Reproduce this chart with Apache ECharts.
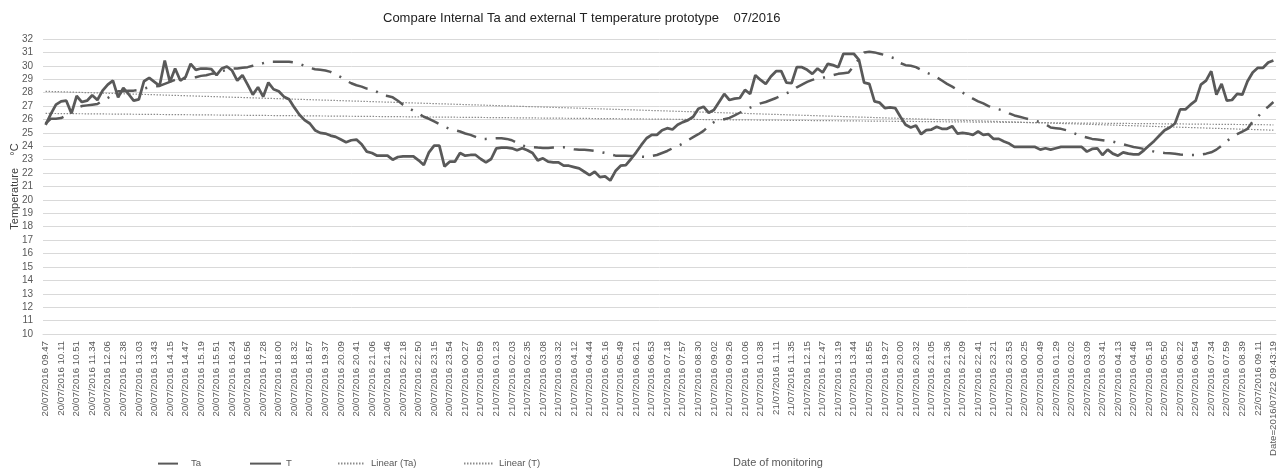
<!DOCTYPE html>
<html>
<head>
<meta charset="utf-8">
<title>Compare Internal Ta and external T temperature prototype</title>
<script src="https://cdn.jsdelivr.net/npm/echarts@6.0.0/dist/echarts.min.js"></script>
<style>
  html, body { margin: 0; padding: 0; background: #fff; }
  #chart { width: 1287px; height: 472px; }
</style>
</head>
<body>
<div id="chart"></div>
<script>
// tick labels shown on the x axis (one every 3 readings)
const tickLabels = [
  '20/07/2016 09.47', '20/07/2016 10.11', '20/07/2016 10.51', '20/07/2016 11.34', '20/07/2016 12.06',
  '20/07/2016 12.38', '20/07/2016 13.03', '20/07/2016 13.43', '20/07/2016 14.15', '20/07/2016 14.47',
  '20/07/2016 15.19', '20/07/2016 15.51', '20/07/2016 16.24', '20/07/2016 16.56', '20/07/2016 17.28',
  '20/07/2016 18.00', '20/07/2016 18.32', '20/07/2016 18.57', '20/07/2016 19.37', '20/07/2016 20.09',
  '20/07/2016 20.41', '20/07/2016 21.06', '20/07/2016 21.46', '20/07/2016 22.18', '20/07/2016 22.50',
  '20/07/2016 23.15', '20/07/2016 23.54',
  '21/07/2016 00.27', '21/07/2016 00.59', '21/07/2016 01.23', '21/07/2016 02.03', '21/07/2016 02.35',
  '21/07/2016 03.08', '21/07/2016 03.32', '21/07/2016 04.12', '21/07/2016 04.44', '21/07/2016 05.16',
  '21/07/2016 05.49', '21/07/2016 06.21', '21/07/2016 06.53', '21/07/2016 07.18', '21/07/2016 07.57',
  '21/07/2016 08.30', '21/07/2016 09.02', '21/07/2016 09.26', '21/07/2016 10.06', '21/07/2016 10.38',
  '21/07/2016 11.11', '21/07/2016 11.35', '21/07/2016 12.15', '21/07/2016 12.47', '21/07/2016 13.19',
  '21/07/2016 13.44', '21/07/2016 18.55', '21/07/2016 19.27', '21/07/2016 20.00', '21/07/2016 20.32',
  '21/07/2016 21.05', '21/07/2016 21.36', '21/07/2016 22.09', '21/07/2016 22.41', '21/07/2016 23.21',
  '21/07/2016 23.53',
  '22/07/2016 00.25', '22/07/2016 00.49', '22/07/2016 01.29', '22/07/2016 02.02', '22/07/2016 03.09',
  '22/07/2016 03.41', '22/07/2016 04.13', '22/07/2016 04.46', '22/07/2016 05.18', '22/07/2016 05.50',
  '22/07/2016 06.22', '22/07/2016 06.54', '22/07/2016 07.34', '22/07/2016 07.59', '22/07/2016 08.39',
  '22/07/2016 09.11',
  'Date=2016/07/22 09:43:19'
];
const readingsPerTick = 3;

// external temperature T (solid line)
const tValues = [
  25.6, 26.4, 27.1, 27.35, 27.4, 26.45, 27.75, 27.3, 27.4, 27.8,
  27.45, 28.15, 28.6, 28.9, 27.65, 28.35, 27.9, 27.4, 27.5, 28.85,
  29.1, 28.8, 28.5, 30.4, 28.8, 29.8, 28.9, 29.15, 30.15, 29.7,
  29.8, 29.8, 29.75, 29.3, 29.8, 29.95, 29.65, 28.9, 29.3, 28.6,
  27.85, 28.4, 27.7, 28.75, 28.25, 28.1, 27.7, 27.5, 26.9, 26.35,
  25.95, 25.7, 25.2, 25.0, 24.95, 24.8, 24.7, 24.5, 24.3, 24.45,
  24.5, 24.15, 23.6, 23.5, 23.3, 23.3, 23.3, 23.0, 23.2, 23.25,
  23.25, 23.25, 22.95, 22.6, 23.55, 24.05, 24.05, 22.5, 22.85, 22.85,
  23.5, 23.3, 23.35, 23.35, 23.05, 22.8, 23.05, 23.85, 23.9, 23.9,
  23.85, 23.7, 23.85, 23.7, 23.5, 22.95, 23.1, 22.85, 22.8, 22.8,
  22.55, 22.55, 22.45, 22.35, 22.1, 21.85, 22.1, 21.7, 21.75, 21.45,
  22.15, 22.55, 22.6, 23.05, 23.55, 24.1, 24.6, 24.85, 24.85, 25.2,
  25.35, 25.25, 25.6, 25.8, 25.95, 26.2, 26.8, 26.95, 26.5, 26.7,
  27.3, 27.9, 27.45, 27.55, 27.6, 28.2, 27.9, 29.3, 28.95, 28.65,
  29.2, 29.6, 29.6, 28.75, 28.7, 29.9, 29.9, 29.7, 29.4, 29.8,
  29.5, 30.15, 30.05, 29.9, 30.9, 30.9, 30.9, 30.45, 28.75, 28.65,
  27.35, 27.25, 26.85, 26.9, 26.85, 26.2, 25.6, 25.4, 25.55, 24.9,
  25.2, 25.25, 25.45, 25.3, 25.3, 25.5, 24.95, 25.0, 24.95, 24.85,
  25.1, 24.85, 24.9, 24.55, 24.55, 24.35, 24.2, 23.95, 23.95, 23.95,
  23.95, 23.95, 23.75, 23.85, 23.75, 23.85, 23.95, 23.95, 23.95, 23.95,
  23.95, 23.6, 23.8, 23.85, 23.35, 23.75, 23.45, 23.3, 23.55, 23.45,
  23.4, 23.4, 23.7, 24.05, 24.4, 24.8, 25.2, 25.4, 25.7, 26.75,
  26.75, 27.1, 27.4, 28.6, 28.9, 29.6, 27.85, 28.65, 27.4, 27.45,
  27.9, 27.85, 28.85, 29.5, 29.85, 29.85, 30.25, 30.4
];

// internal temperature Ta (dash-dot line)
const taValues = [
  25.7, 26.05, 26.05, 26.1, 26.3, 26.6, 26.85, 27.0, 27.05, 27.1,
  27.15, 27.4, 27.6, 27.85, 28.1, 28.1, 28.15, 28.15, 28.2, 28.3,
  28.4, 28.45, 28.5, 28.65, 28.8, 28.95, 29.0, 29.05, 29.1, 29.15,
  29.25, 29.3, 29.4, 29.45, 29.6, 29.7, 29.8, 29.8, 29.85, 29.9,
  30.0, 30.1, 30.2, 30.3, 30.3, 30.3, 30.3, 30.3, 30.25, 30.15,
  30.0, 29.85, 29.75, 29.7, 29.65, 29.55, 29.35, 29.15, 28.9, 28.7,
  28.55, 28.45, 28.3, 28.25, 28.05, 27.8, 27.75, 27.65, 27.4, 27.1,
  26.85, 26.65, 26.45, 26.2, 26.05, 25.85, 25.65, 25.45, 25.3, 25.2,
  25.1, 24.95, 24.85, 24.7, 24.55, 24.55, 24.58, 24.6, 24.6, 24.55,
  24.45, 24.25, 24.05, 23.95, 23.93, 23.9, 23.88, 23.88, 23.9, 23.92,
  23.93, 23.85, 23.78, 23.74, 23.74, 23.7, 23.65, 23.58, 23.5, 23.4,
  23.3, 23.3, 23.3, 23.28, 23.25, 23.22, 23.2, 23.28, 23.35, 23.5,
  23.65, 23.85, 24.0, 24.2, 24.45, 24.68, 24.9, 25.15, 25.5, 25.8,
  25.98, 26.02, 26.12, 26.3, 26.5, 26.7, 26.88, 27.05, 27.2, 27.3,
  27.45, 27.6, 27.8, 27.95, 28.1, 28.4, 28.6, 28.8, 28.95, 29.05,
  29.1, 29.2, 29.3, 29.4, 29.45, 29.5, 30.0, 30.5, 31.0, 31.05,
  31.0, 30.9, 30.8, 30.65, 30.55, 30.2, 30.05, 30.0, 29.9, 29.7,
  29.5, 29.35, 29.15, 28.9, 28.65, 28.45, 28.2, 28.0, 27.8, 27.55,
  27.35, 27.2, 27.0, 26.85, 26.75, 26.65, 26.45, 26.3, 26.2, 26.1,
  26.0, 25.9, 25.8, 25.65, 25.4, 25.35, 25.3, 25.2, 25.05, 24.9,
  24.75, 24.65, 24.55, 24.5, 24.45, 24.4, 24.35, 24.25, 24.15, 24.05,
  23.95, 23.88, 23.8, 23.7, 23.6, 23.55, 23.5, 23.48, 23.45, 23.38,
  23.35, 23.35, 23.35, 23.38, 23.45, 23.55, 23.75, 24.05, 24.4, 24.65,
  24.9, 25.1, 25.3, 25.85, 26.2, 26.65, 26.95, 27.3
];

// linear trend lines, value at first and last reading
const linearTa = [28.1, 25.2];
const linearT = [26.45, 25.6];

// categories: a tick label every 3 readings, in-between readings get their own unique names
let categories = [];
tickLabels.forEach((lab, k) => {
  categories.push(lab);
  if (k < tickLabels.length - 1) {
    for (let j = 1; j < readingsPerTick; j++) categories.push(lab + ' +' + j);
  }
});

// trend line data: only the two ends, the line is drawn between them
function trendData(ends) {
  let d = categories.map(() => null);
  d[0] = ends[0];
  d[d.length - 1] = ends[1];
  return d;
}

const grey = '#595959';
const font = 'Liberation Sans';

let chart = echarts.init(document.getElementById('chart'), null, { renderer: 'canvas' });

// one legend box per item, the reference spaces them unevenly
function legendBox(name, left, width, textPad) {
  return {
    data: [name],
    left: left,
    top: 458,
    padding: 0,
    itemWidth: width,
    itemHeight: 14,
    selectedMode: false,
    itemStyle: { opacity: 0 }, // hide the symbol, keep only the line
    textStyle: { fontSize: 9.5, color: grey, fontFamily: font, padding: [0, 0, 0, textPad] }
  };
}

chart.setOption({
  animation: false,
  backgroundColor: '#fff',
  title: {
    text: 'Compare Internal Ta and external T temperature prototype    07/2016',
    left: 383,
    top: 12,
    padding: 0,
    textStyle: { fontSize: 13, fontWeight: 'normal', color: '#222', fontFamily: font }
  },
  grid: { left: 43, right: 11, top: 39, bottom: 138, outerBoundsMode: 'none' },
  legend: [
    legendBox('Ta', 157, 20, 8),
    legendBox('T', 249, 31, 0),
    legendBox('Linear (Ta)', 337, 26, 2),
    legendBox('Linear (T)', 463, 30, 0)
  ],
  xAxis: {
    type: 'category',
    data: categories,
    boundaryGap: true,
    name: 'Date of monitoring',
    nameLocation: 'middle',
    nameGap: 123,
    nameMoveOverlap: false,
    nameTextStyle: { fontSize: 11, color: grey, fontFamily: font, padding: [0, 0, 0, 237] },
    axisLine: { lineStyle: { color: '#d9d9d9' } },
    axisTick: { show: false },
    axisLabel: {
      interval: readingsPerTick - 1,
      rotate: 90,
      fontSize: 9.7,
      color: grey,
      fontFamily: font,
      margin: 7
    },
    splitLine: { show: false }
  },
  yAxis: {
    type: 'value',
    min: 10,
    max: 32,
    interval: 1,
    name: 'Temperature    °C',
    nameLocation: 'middle',
    nameRotate: 90,
    nameGap: 23,
    nameMoveOverlap: false,
    nameTextStyle: { fontSize: 11, color: '#404040', fontFamily: font },
    axisLine: { show: false },
    axisTick: { show: false },
    axisLabel: { fontSize: 10, color: grey, fontFamily: font, margin: 10 },
    splitLine: { lineStyle: { color: '#d9d9d9', width: 1 } }
  },
  series: [
    {
      name: 'Ta',
      type: 'line',
      data: taValues,
      symbol: 'none',
      lineStyle: { color: grey, width: 2.5, type: [20, 9, 2, 9] },
      itemStyle: { color: grey },
      z: 3
    },
    {
      name: 'T',
      type: 'line',
      data: tValues,
      symbol: 'none',
      lineStyle: { color: grey, width: 2.75 },
      itemStyle: { color: grey },
      z: 4
    },
    {
      name: 'Linear (Ta)',
      type: 'line',
      data: trendData(linearTa),
      connectNulls: true,
      symbol: 'none',
      lineStyle: { color: '#8c8c8c', width: 1.2, type: [1.5, 1.5] },
      itemStyle: { color: '#8c8c8c' },
      z: 2
    },
    {
      name: 'Linear (T)',
      type: 'line',
      data: trendData(linearT),
      connectNulls: true,
      symbol: 'none',
      lineStyle: { color: '#8c8c8c', width: 1.2, type: [1.5, 1.5] },
      itemStyle: { color: '#8c8c8c' },
      z: 2
    }
  ]
});
</script>
</body>
</html>
